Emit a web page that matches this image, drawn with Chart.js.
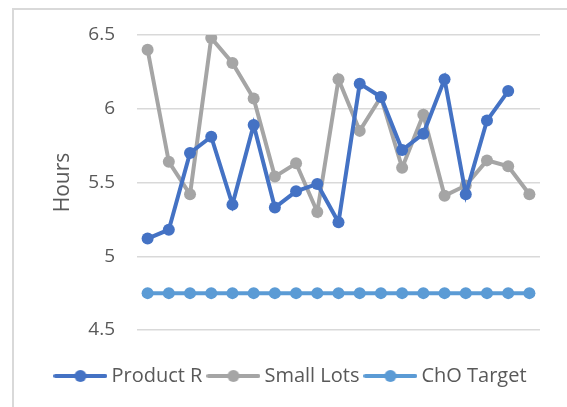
<!DOCTYPE html>
<html>
<head>
<meta charset="utf-8">
<script src="https://cdn.jsdelivr.net/npm/chart.js@4"></script>
<style>
    body { margin: 0; background: #fff; }
    #frame {
        position: absolute; left: 12px; top: 8px; width: 600px; height: 500px;
        border-top: 2px solid #d9d9d9; border-left: 2px solid #d9d9d9;
    }
    #wrap { position: absolute; left: 0; top: 0; width: 567px; height: 407px; }
</style>
</head>
<body>
<div id="frame"></div>
<div id="wrap"><canvas id="hoursChart" width="567" height="407"></canvas></div>
<script>
const categories = ['1','2','3','4','5','6','7','8','9','10','11','12','13','14','15','16','17','18','19'];
const productR = [5.12, 5.18, 5.70, 5.81, 5.35, 5.89, 5.33, 5.44, 5.49, 5.23, 6.17, 6.08, 5.72, 5.83, 6.20, 5.42, 5.92, 6.12, null];
const smallLots = [6.40, 5.64, 5.42, 6.48, 6.31, 6.07, 5.54, 5.63, 5.30, 6.20, 5.85, 6.08, 5.60, 5.96, 5.41, 5.48, 5.65, 5.61, 5.42];
const choTarget = [4.75, 4.75, 4.75, 4.75, 4.75, 4.75, 4.75, 4.75, 4.75, 4.75, 4.75, 4.75, 4.75, 4.75, 4.75, 4.75, 4.75, 4.75, 4.75];
const yTicks = [4.5, 5, 5.5, 6, 6.5];

// legend marker: line with a dot in the middle
function legendMarker(color) {
    const c = document.createElement('canvas');
    c.width = 54;
    c.height = 14;
    const ctx = c.getContext('2d');
    ctx.strokeStyle = color;
    ctx.lineWidth = 4;
    ctx.lineCap = 'round';
    ctx.beginPath();
    ctx.moveTo(2, 7);
    ctx.lineTo(52, 7);
    ctx.stroke();
    ctx.fillStyle = color;
    ctx.beginPath();
    ctx.arc(27, 7, 6, 0, Math.PI * 2);
    ctx.fill();
    return c;
}

function series(label, data, color) {
    return {
        label: label,
        data: data,
        borderColor: color,
        backgroundColor: color,
        borderWidth: 4,
        pointRadius: 6,
        pointHoverRadius: 6,
        pointBorderWidth: 0,
        pointStyle: 'circle',
        legendMarker: legendMarker(color),
        tension: 0
    };
}

new Chart(document.getElementById('hoursChart'), {
    type: 'line',
    data: {
        labels: categories,
        datasets: [
            series('Product R', productR, '#4472C4'),
            series('Small Lots', smallLots, '#A5A5A5'),
            series('ChO Target', choTarget, '#5B9BD5')
        ]
    },
    options: {
        responsive: false,
        animation: false,
        layout: { padding: { left: 46, right: 27, top: 35, bottom: 11 } },
        plugins: {
            tooltip: { enabled: false },
            legend: {
                position: 'bottom',
                labels: {
                    usePointStyle: true,
                    pointStyleWidth: 42,
                    boxHeight: 12,
                    padding: 10,
                    color: '#595959',
                    font: { family: 'Open Sans', size: 20 },
                    generateLabels: chart => chart.data.datasets.map((ds, i) => ({
                        text: ds.label,
                        pointStyle: ds.legendMarker,
                        fillStyle: ds.borderColor,
                        strokeStyle: ds.borderColor,
                        lineWidth: 0,
                        fontColor: '#595959',
                        datasetIndex: i,
                        hidden: false
                    }))
                }
            }
        },
        scales: {
            x: {
                offset: true,
                ticks: { display: false },
                grid: { display: false },
                border: { display: false },
                afterFit: scale => { scale.height = 26; }
            },
            y: {
                min: 4.5,
                max: 6.5,
                afterBuildTicks: scale => { scale.ticks = yTicks.map(v => ({ value: v })); },
                afterFit: scale => { scale.width = 91; },
                ticks: {
                    padding: 22,
                    color: '#595959',
                    font: { family: 'Open Sans', size: 19 },
                    callback: v => String(v)
                },
                grid: { color: '#d9d9d9', lineWidth: 1.5, drawTicks: false },
                border: { display: false },
                title: {
                    display: true,
                    text: 'Hours',
                    color: '#595959',
                    font: { family: 'Open Sans', size: 21 },
                    padding: { top: 4, bottom: 4 }
                }
            }
        }
    }
});
</script>
</body>
</html>
